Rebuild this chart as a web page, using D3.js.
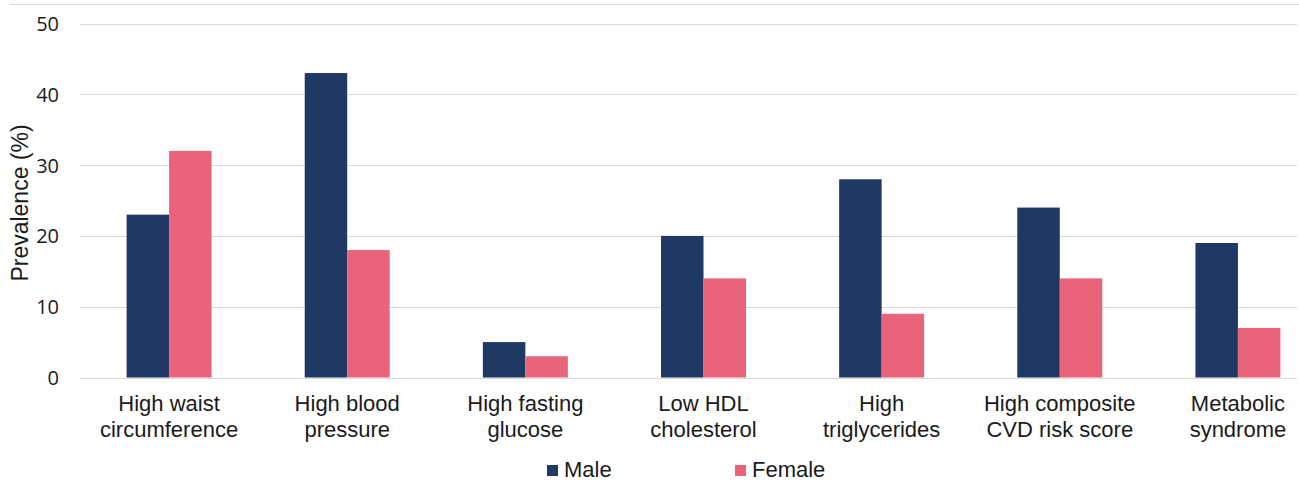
<!DOCTYPE html>
<html>
<head>
<meta charset="utf-8">
<script src="https://cdn.jsdelivr.net/npm/d3@7"></script>
<style>
  html, body { margin: 0; padding: 0; background: #fff; }
  svg { display: block; }
  text { font-family: "Liberation Sans", Arial, sans-serif; fill: #1a1a1a; }
</style>
</head>
<body>
<svg id="chart" width="1299" height="486"></svg>
<script>
const categories = [
  ["High waist", "circumference"],
  ["High blood", "pressure"],
  ["High fasting", "glucose"],
  ["Low HDL", "cholesterol"],
  ["High", "triglycerides"],
  ["High composite", "CVD risk score"],
  ["Metabolic", "syndrome"]
];
const seriesNames = ["Male", "Female"];
const maleValues = [23, 43, 5, 20, 28, 24, 19];
const femaleValues = [32, 18, 3, 14, 9, 14, 7];
const yTicks = [0, 10, 20, 30, 40, 50];
const colors = ["#203864", "#E9647A"];

const svg = d3.select("#chart");
const catKeys = categories.map((c, i) => i);

const x0 = d3.scaleBand().domain(catKeys).range([80, 1327]).paddingInner(0.523).paddingOuter(0.2615);
const x1 = d3.scaleBand().domain(seriesNames).range([0, x0.bandwidth()]);
const y = d3.scaleLinear().domain([0, 50]).range([377.5, 23.5]);

// top border
svg.append("line").attr("x1", 10).attr("x2", 1299).attr("y1", 4.5).attr("y2", 4.5)
  .attr("stroke", "#d9d9d9").attr("stroke-width", 1);

// gridlines
svg.append("g").selectAll("line").data(yTicks).join("line")
  .attr("x1", 80).attr("x2", 1297)
  .attr("y1", d => Math.round(y(d)) + 0.5).attr("y2", d => Math.round(y(d)) + 0.5)
  .attr("stroke", "#d9d9d9").attr("stroke-width", 1);

// y axis labels
const yAxis = d3.axisLeft(y).tickValues(yTicks).tickSize(0).tickPadding(0);
const gy = svg.append("g").attr("transform", "translate(59,0)").call(yAxis);
gy.select(".domain").remove();
gy.selectAll("text").style("font-size", "20px").attr("fill", "#1a1a1a")
  .style("font-family", "'Open Sans', 'Liberation Sans', sans-serif").attr("dy", "0.35em");

// y title
svg.append("text")
  .attr("transform", "translate(28,203) rotate(-90)")
  .attr("text-anchor", "middle")
  .style("font-size", "23px")
  .text("Prevalence (%)");

// bars
const data = catKeys.map(i => ({ i, vals: [maleValues[i], femaleValues[i]] }));
const groups = svg.append("g").selectAll("g").data(data).join("g")
  .attr("transform", d => `translate(${x0(d.i)},0)`);
groups.selectAll("rect").data(d => d.vals.map((v, k) => ({ key: seriesNames[k], v, k })))
  .join("rect")
  .attr("x", d => x1(d.key))
  .attr("width", x1.bandwidth())
  .attr("y", d => y(d.v))
  .attr("height", d => y(0) - y(d.v))
  .attr("fill", d => colors[d.k]);

// category labels
const xl = svg.append("g");
categories.forEach((lines, i) => {
  const cx = x0(i) + x0.bandwidth() / 2;
  const t = xl.append("text").attr("text-anchor", "middle").style("font-size", "22px");
  lines.forEach((ln, j) => {
    t.append("tspan").attr("x", cx).attr("y", 411 + j * 26).text(ln);
  });
});

// legend
const legendX = [547, 735];
seriesNames.forEach((name, k) => {
  const g = svg.append("g").attr("transform", `translate(${legendX[k]},0)`);
  g.append("rect").attr("x", 0).attr("y", 465).attr("width", 11).attr("height", 11).attr("fill", colors[k]);
  g.append("text").attr("x", 17).attr("y", 477).style("font-size", "22px").text(name);
});
</script>
</body>
</html>
